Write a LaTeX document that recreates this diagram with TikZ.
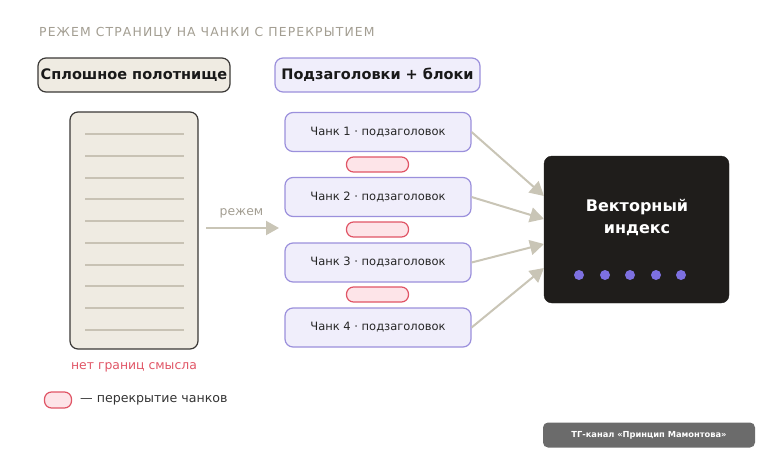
\documentclass[tikz,border=0pt]{standalone}
\usepackage{fontspec}
\setmainfont{DejaVu Sans}
\newfontfamily\titlefont[LetterSpace=9]{DejaVu Sans}
\usetikzlibrary{arrows.meta}
\definecolor{beige}{HTML}{EFEBE2}
\definecolor{darkline}{HTML}{3A3836}
\definecolor{lav}{HTML}{F0EEFB}
\definecolor{lavline}{HTML}{9B90DC}
\definecolor{pinkfill}{HTML}{FDE4E8}
\definecolor{pinkline}{HTML}{E05566}
\definecolor{arrowgray}{HTML}{C9C5B6}
\definecolor{pageline}{HTML}{C8C2B4}
\definecolor{titlegray}{HTML}{A39E92}
\definecolor{idxfill}{HTML}{1F1D1B}
\definecolor{dotc}{HTML}{7D70E0}
\definecolor{footfill}{HTML}{6B6B6B}
\tikzset{
  headbox/.style={rounded corners=8pt, line width=1.2pt, minimum height=34pt, inner sep=0pt, text=black!90, font=\bfseries\fontsize{14.5}{16}\selectfont},
  chunkbox/.style={draw=lavline, fill=lav, rounded corners=8pt, line width=1.2pt, minimum width=186pt, minimum height=39pt, inner sep=0pt, font=\fontsize{11.5}{13}\selectfont, text=black!85},
  pill/.style={draw=pinkline, fill=pinkfill, rounded corners=7pt, line width=1.2pt, minimum width=62pt, minimum height=15pt, inner sep=0pt},
  conn/.style={draw=arrowgray, line width=2pt, -{Triangle[length=14pt,width=15pt]}},
  pline/.style={draw=pageline, line width=2.2pt},
  dot/.style={circle, fill=dotc, minimum size=10pt, inner sep=0pt}
}
\begin{document}
\begin{tikzpicture}[x=1pt,y=-1pt]
\useasboundingbox (0,0) rectangle (768,461);
\node[anchor=west, text=titlegray, font=\titlefont\fontsize{12.4}{14}\selectfont, inner sep=0pt] (title) at (39,33) {РЕЖЕМ СТРАНИЦУ НА ЧАНКИ С ПЕРЕКРЫТИЕМ};
\node[headbox, draw=darkline, fill=beige, minimum width=192pt] (h1) at (134,75) {Сплошное полотнище};
\node[headbox, draw=lavline, fill=lav, minimum width=205pt] (h2) at (377.5,75) {Подзаголовки + блоки};
% document
\node[draw=darkline, fill=beige, rounded corners=8pt, line width=1.2pt, minimum width=128pt, minimum height=237pt, inner sep=0pt] (doc) at (134,230.5) {};
\foreach \yy in {134,155.7,177.7,199.3,221,243,264.7,286.3,308.3,330}
  \draw[pline] (85,\yy) -- (184,\yy);
\node[text=pinkline, font=\fontsize{12.4}{14}\selectfont] (nb) at (134,367) {нет границ смысла};
% cut arrow
\coordinate (cs) at (206,228);
\coordinate (ce) at (279,228);
\draw[draw=arrowgray, line width=2.2pt, -{Triangle[length=13pt,width=14pt]}] (cs) -- (ce);
\node[text=titlegray, font=\fontsize{12.4}{14}\selectfont] (cut) at (241.5,213) {режем};
% chunks
\node[chunkbox] (c1) at (378,132) {Чанк 1 · подзаголовок};
\node[chunkbox] (c2) at (378,197) {Чанк 2 · подзаголовок};
\node[chunkbox] (c3) at (378,262.5) {Чанк 3 · подзаголовок};
\node[chunkbox] (c4) at (378,327.5) {Чанк 4 · подзаголовок};
\node[pill] (p1) at (377.5,164.5) {};
\node[pill] (p2) at (377.5,229.5) {};
\node[pill] (p3) at (377.5,294.5) {};
% index
\node[fill=idxfill, draw=idxfill, rounded corners=8pt, minimum width=185pt, minimum height=147pt, inner sep=0pt] (idx) at (636.5,229.5) {};
\node[text=white, font=\bfseries\fontsize{16}{22}\selectfont, align=center] (idxt) at (637,217) {Векторный\\индекс};
\foreach \xx/\nn in {579/d1,605/d2,630/d3,656/d4,681/d5}
  \node[dot] (\nn) at (\xx,275) {};
\coordinate (t1) at (544,196);
\coordinate (t2) at (544,219);
\coordinate (t3) at (544,244);
\coordinate (t4) at (544,268);
\draw[conn] (c1.east) -- (t1);
\draw[conn] (c2.east) -- (t2);
\draw[conn] (c3.east) -- (t3);
\draw[conn] (c4.east) -- (t4);
% legend
\node[pill, minimum width=27pt, minimum height=16pt] (lp) at (58,400) {};
\node[anchor=west, font=\fontsize{12.6}{14}\selectfont, text=black!80, inner sep=0pt] (lt) at (80,400) {— перекрытие чанков};
% footer
\node[fill=footfill, rounded corners=5pt, minimum width=212pt, minimum height=25pt, inner sep=0pt, text=white, font=\bfseries\fontsize{8.3}{10}\selectfont] (foot) at (649,435) {ТГ-канал «Принцип Мамонтова»};
\end{tikzpicture}
\end{document}
